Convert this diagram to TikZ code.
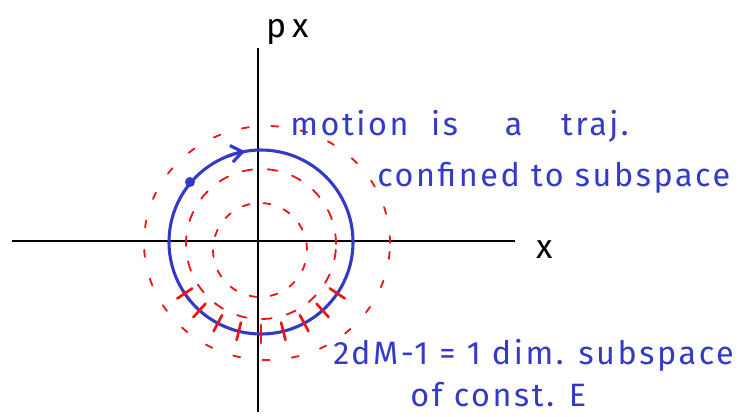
\documentclass[tikz,border=0pt]{standalone}
\usepackage{fontspec}
\setmainfont{Fira Sans}
\usetikzlibrary{arrows.meta}
\definecolor{penBlue}{RGB}{52,58,200}
\definecolor{penRed}{RGB}{238,20,20}

\begin{document}
\begin{tikzpicture}[x=0.025cm,y=0.025cm,
  axis/.style={draw=black,line width=1.6pt},
  orbit/.style={draw=penBlue,line width=2.2pt},
  level/.style={draw=penRed,line width=1.3pt,line cap=round},
  tick/.style={draw=penRed,line width=1.9pt,line cap=round},
  note/.style={text=penBlue,anchor=west,inner sep=0pt,font=\fontsize{23}{26}\selectfont\addfontfeatures{LetterSpace=8}},
  lab/.style={text=black,inner sep=0pt,font=\fontsize{24}{26}\selectfont}]
\useasboundingbox (0,0) rectangle (740,-416);

% axes
\coordinate (pTop) at (258,-48);
\coordinate (pBot) at (258,-412);
\coordinate (xL) at (12,-241);
\coordinate (xR) at (515,-241);
\draw[axis] (pBot) -- (pTop);
\draw[axis] (xL) -- (xR);
\node[lab] (px) at (288,-32) {p\,x};
\node[lab] (xx) at (545,-250) {x};

% levels of constant E
\coordinate (c) at (261,-242);
\draw[level,dash pattern=on 5 off 16] (267,-243) ellipse [x radius=123,y radius=117];
\draw[level,dash pattern=on 7 off 11] (261,-244) circle [radius=75];
\draw[level,dash pattern=on 5 off 10] (260,-250) circle [radius=47];

% trajectory
\draw[orbit] (c) circle [radius=92];
\draw[orbit,-{Straight Barb[length=8pt,width=12pt]}] (c) ++(112:92) arc [start angle=112,end angle=100,radius=92];
\fill[penBlue] (190,-182) circle [radius=5];
\foreach \a in {214,228,...,326}
  \draw[tick,shift={(c)}] (\a:83) -- (\a:101);

% notes
\node[note] (m1) at (290,-126) {motion\hspace{0.7em}is\hspace{1.45em}a\hspace{1.2em}traj.};
\node[note] (m2) at (377,-178) {confined to subspace};
\node[note] (d1) at (333,-355) {2dM-1 = 1 dim. subspace};
\node[note] (d2) at (410,-395) {of const. E};
\end{tikzpicture}
\end{document}
